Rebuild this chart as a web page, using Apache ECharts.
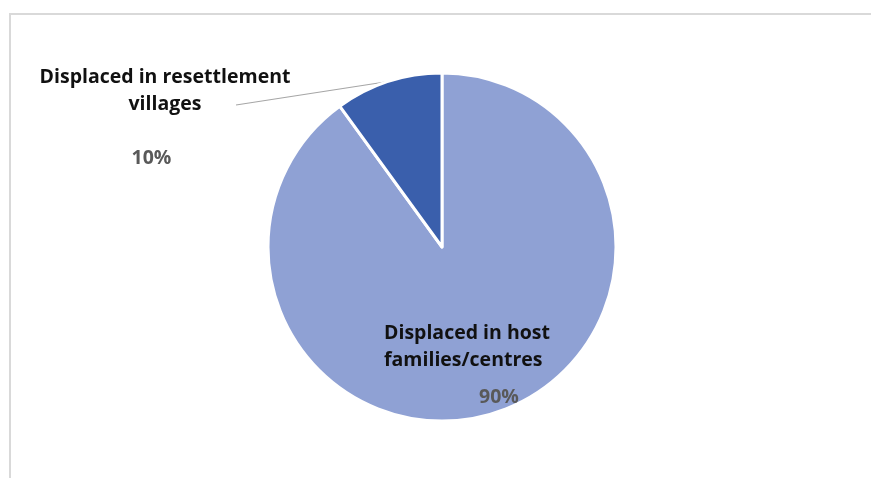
<!DOCTYPE html>
<html>
<head>
<meta charset="utf-8">
<script src="https://cdn.jsdelivr.net/npm/echarts@6/dist/echarts.min.js"></script>
<style>
  html, body { margin: 0; padding: 0; background: #ffffff; }
  #chart { width: 871px; height: 478px; }
</style>
</head>
<body>
<div id="chart"></div>
<script>
// Share of displaced people by type of shelter
const categories = ['Displaced in host\nfamilies/centres', 'Displaced in resettlement\nvillages'];
const shares = [90, 10];
const sliceColors = ['#8FA1D4', '#3A5FAC'];

const FONT = '"Open Sans", Lato, sans-serif';
const FS = 19.5;

const chart = echarts.init(document.getElementById('chart'), null, { renderer: 'canvas' });

function labelText(name, value, idx) {
  const lines = name.split('\n').map(l => '{n' + idx + '|' + l + '}').join('\n');
  return lines + '\n' + (idx === 1 ? '{gap| }\n' : '') + '{p' + idx + '|' + value + '%}';
}

chart.setOption({
  backgroundColor: '#ffffff',
  animation: false,
  graphic: [{
    type: 'rect',
    shape: { x: 10, y: 14, width: 1000, height: 600 },
    style: { fill: 'none', stroke: '#d9d9d9', lineWidth: 2 },
    silent: true
  }],
  series: [{
    type: 'pie',
    center: [442, 247],
    radius: 174,
    startAngle: 90,
    clockwise: true,
    itemStyle: { borderColor: '#ffffff', borderWidth: 3 },
    data: categories.map((c, i) => ({
      name: c,
      value: shares[i],
      itemStyle: { color: sliceColors[i] },
      label: {
        show: true,
        position: i === 0 ? 'inside' : 'outside',
        formatter: p => labelText(p.name, p.value, i)
      },
      labelLine: { show: i === 1 }
    })),
    label: {
      fontFamily: FONT,
      lineHeight: 27,
      rich: {
        n0: { fontFamily: FONT, fontSize: FS, fontWeight: 'bold', color: '#111111', lineHeight: 27, align: 'left' },
        p0: { fontFamily: FONT, fontSize: FS, fontWeight: 'bold', color: '#595959', lineHeight: 47, align: 'left', padding: [0, 0, 0, 95] },
        n1: { fontFamily: FONT, fontSize: FS, fontWeight: 'bold', color: '#111111', lineHeight: 27, align: 'center' },
        gap: { fontSize: 12, lineHeight: 27 },
        p1: { fontFamily: FONT, fontSize: FS, fontWeight: 'bold', color: '#595959', lineHeight: 27, align: 'left', padding: [0, 0, 0, 92] }
      }
    },
    labelLine: { lineStyle: { color: '#a6a6a6', width: 1.2 }, length: 10, length2: 10 },
    labelLayout: function (params) {
      if (params.dataIndex === 0) {
        return { x: 384, y: 319.5, align: 'left', verticalAlign: 'top' };
      }
      // straight leader from the slice edge to just right of the second name line
      const lx = 165, ly = 63.5;
      const start = params.labelLinePoints ? params.labelLinePoints[0] : null;
      const out = { x: lx, y: ly, align: 'center', verticalAlign: 'top' };
      if (start) out.labelLinePoints = [start, [lx + 71, ly + 41.5]];
      return out;
    }
  }]
});
</script>
</body>
</html>
